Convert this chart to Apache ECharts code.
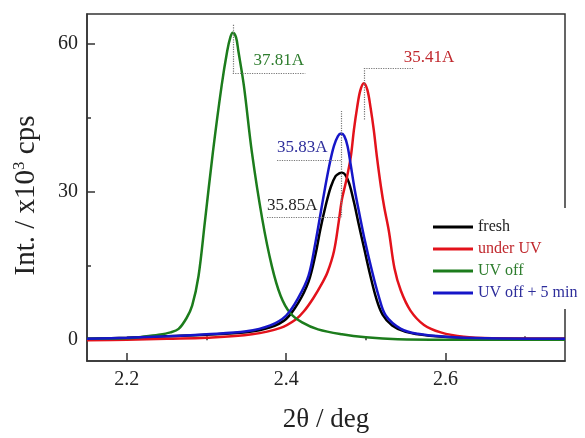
<!DOCTYPE html>
<html>
<head>
<meta charset="utf-8">
<script src="https://cdn.jsdelivr.net/npm/echarts@6/dist/echarts.min.js"></script>
<style>
html, body { margin: 0; padding: 0; background: #fff; }
#chart { width: 585px; height: 438px; }
</style>
</head>
<body>
<div id="chart"></div>
<script>
// 2theta values and intensities (x10^3 cps)
var freshX = [2.15, 2.2, 2.25, 2.3, 2.35, 2.38, 2.40, 2.415, 2.428, 2.437, 2.443, 2.45, 2.456, 2.462, 2.467, 2.4703, 2.474, 2.479, 2.485, 2.491, 2.498, 2.505, 2.513, 2.521, 2.533, 2.55, 2.58, 2.62, 2.68, 2.75];
var freshY = [0.3, 0.5, 0.8, 1.1, 1.6, 2.6, 4.3, 7.5, 11.8, 17.5, 22.5, 27.5, 31, 33.2, 33.8, 33.9, 33.5, 31.8, 28, 23.5, 18.5, 13.5, 8.5, 5.2, 3.0, 1.7, 0.9, 0.5, 0.3, 0.3];

var uvX = [2.15, 2.2, 2.25, 2.3, 2.357, 2.393, 2.412, 2.422, 2.434, 2.445, 2.452, 2.46, 2.466, 2.47, 2.475, 2.481, 2.485, 2.489, 2.493, 2.4976, 2.502, 2.506, 2.51, 2.514, 2.519, 2.523, 2.529, 2.536, 2.544, 2.556, 2.573, 2.594, 2.623, 2.66, 2.75];
var uvY = [0, 0.1, 0.3, 0.5, 1.2, 2.5, 4.2, 5.8, 8.5, 11.5, 13.8, 18, 24, 28.5, 32, 37, 42.5, 47, 50.5, 52, 50.6, 47, 42.5, 37, 31, 27, 22, 14.5, 10, 6, 3.1, 1.6, 0.7, 0.4, 0.3];

var offX = [2.15, 2.2, 2.22, 2.24, 2.255, 2.265, 2.275, 2.282, 2.29, 2.298, 2.308, 2.319, 2.326, 2.33, 2.333, 2.337, 2.34, 2.347, 2.357, 2.37, 2.382, 2.393, 2.405, 2.42, 2.44, 2.47, 2.5, 2.54, 2.6, 2.68, 2.75];
var offY = [0.3, 0.4, 0.7, 1.1, 1.6, 2.3, 4.5, 7, 13, 24, 38, 51.5, 58.5, 61.3, 62.2, 61.3, 58.5, 51.4, 38, 24.5, 15, 9, 5.5, 3.6, 2.2, 1.2, 0.6, 0.2, 0.1, 0.1, 0.1];

var off5X = [2.15, 2.2, 2.25, 2.3, 2.35, 2.38, 2.40, 2.415, 2.428, 2.437, 2.443, 2.449, 2.455, 2.46, 2.465, 2.469, 2.473, 2.477, 2.481, 2.486, 2.492, 2.499, 2.507, 2.516, 2.525, 2.544, 2.565, 2.6, 2.65, 2.75];
var off5Y = [0.3, 0.5, 0.8, 1.2, 1.8, 3.0, 5, 8.5, 13, 20, 25.5, 31, 36, 39.3, 41.3, 41.8, 41.3, 39.3, 35.5, 30.5, 25.5, 20, 14.5, 9, 5, 2.3, 1.3, 0.7, 0.4, 0.3];

var seriesNames = ['fresh', 'under UV', 'UV off', 'UV off + 5 min'];
var spacings = ['35.85A', '35.41A', '37.81A', '35.83A'];
var xTicks = [2.2, 2.4, 2.6];
var xMinor = [2.3, 2.5, 2.7];
var yTicks = [0, 30, 60];
var yMinor = [15, 45];

var font = 'Liberation Serif';
var colors = ['#000000', '#e3121b', '#1c7c1c', '#1616c8'];
var labelColors = ['#222222', '#c0282d', '#2e7d2e', '#2d2d9b'];

function zip(xs, ys) {
	return xs.map(function(x, i) { return [x, ys[i]]; });
}

var dotted = { type: 'dotted', color: '#777', width: 1.2 };

function lines(segs) {
	return {
		silent: true,
		symbol: 'none',
		label: { show: false },
		lineStyle: dotted,
		data: segs.map(function(s) {
			return [{ coord: [s[0], s[1]] }, { coord: [s[2], s[3]] }];
		})
	};
}

function tag(idx, x, y) {
	return {
		silent: true,
		symbol: 'circle',
		symbolSize: 0,
		data: [{ coord: [x, y] }],
		label: {
			show: true,
			position: 'right',
			distance: 0,
			formatter: spacings[idx],
			color: labelColors[idx],
			fontFamily: font,
			fontSize: 17
		}
	};
}

function line(idx, data, extra) {
	var s = {
		name: seriesNames[idx],
		type: 'line',
		data: data,
		showSymbol: false,
		smooth: 0.35,
		lineStyle: { color: colors[idx], width: 2.5 },
		itemStyle: { color: colors[idx] }
	};
	for (var k in extra) s[k] = extra[k];
	return s;
}

var option = {
	animation: false,
	backgroundColor: '#fff',
	grid: {
		left: 87, right: 20, top: 14, bottom: 73,
		show: true, borderColor: '#333', borderWidth: 1.5
	},
	legend: {
		orient: 'vertical',
		left: 428,
		top: 208,
		backgroundColor: '#fff',
		padding: [11, 0, 8, 5],
		icon: 'rect',
		itemWidth: 40,
		itemHeight: 3,
		itemGap: 6,
		textStyle: { fontFamily: font, fontSize: 16, lineHeight: 16 },
		data: seriesNames.map(function(n, i) {
			return { name: n, textStyle: { color: labelColors[i] } };
		}),
		z: 10
	},
	xAxis: [{
		type: 'value',
		min: 2.15,
		max: 2.75,
		name: '2θ / deg',
		nameLocation: 'middle',
		nameGap: 45,
		nameTextStyle: { fontFamily: font, fontSize: 27, color: '#222' },
		splitLine: { show: false },
		axisLine: { show: true, onZero: false, lineStyle: { color: '#333', width: 1.5 } },
		axisTick: { show: true, inside: true, length: 8, customValues: xTicks, lineStyle: { color: '#333', width: 1.5 } },
		axisLabel: { customValues: xTicks, fontFamily: font, fontSize: 20, color: '#222', margin: 9,
			formatter: function(v) { return v.toFixed(1); } }
	}, {
		type: 'value',
		min: 2.15,
		max: 2.75,
		position: 'bottom',
		splitLine: { show: false },
		axisLine: { show: false },
		axisTick: { show: true, inside: true, length: 4, customValues: xMinor, lineStyle: { color: '#333', width: 1.5 } },
		axisLabel: { show: false }
	}],
	yAxis: [{
		type: 'value',
		min: -4.2,
		max: 66,
		name: '{a|Int. / x10}{s|3}{a| cps}',
		nameLocation: 'middle',
		nameGap: 45,
		nameTextStyle: {
			color: '#222',
			padding: [0, 16, 0, 0],
			rich: {
				a: { fontFamily: font, fontSize: 29, color: '#222', lineHeight: 31 },
				s: { fontFamily: font, fontSize: 17, color: '#222', verticalAlign: 'top', lineHeight: 15 }
			}
		},
		splitLine: { show: false },
		axisLine: { show: true, onZero: false, lineStyle: { color: '#333', width: 1.5 } },
		axisTick: { show: true, inside: true, length: 8, customValues: yTicks, lineStyle: { color: '#333', width: 1.5 } },
		axisLabel: { customValues: yTicks, fontFamily: font, fontSize: 20, color: '#222', margin: 9 }
	}, {
		type: 'value',
		min: -4.2,
		max: 66,
		position: 'left',
		splitLine: { show: false },
		axisLine: { show: false },
		axisTick: { show: true, inside: true, length: 4, customValues: yMinor, lineStyle: { color: '#333', width: 1.5 } },
		axisLabel: { show: false }
	}],
	series: [
		line(0, zip(freshX, freshY), {
			markLine: lines([[2.376, 24.9, 2.469, 24.9], [2.469, 46.4, 2.469, 24.9]]),
			markPoint: tag(0, 2.376, 27.3)
		}),
		line(1, zip(uvX, uvY), {
			markLine: lines([[2.4976, 55.1, 2.56, 55.1], [2.4976, 55.1, 2.4976, 44.4]]),
			markPoint: tag(1, 2.5475, 57.2)
		}),
		line(2, zip(offX, offY), {
			markLine: lines([[2.333, 63.8, 2.333, 54], [2.333, 54, 2.424, 54]]),
			markPoint: tag(2, 2.359, 56.6)
		}),
		line(3, zip(off5X, off5Y), {
			markLine: lines([[2.3886, 36.5, 2.469, 36.5]]),
			markPoint: tag(3, 2.3886, 39.0)
		})
	]
};

var chart = echarts.init(document.getElementById('chart'));
chart.setOption(option);
</script>
</body>
</html>
